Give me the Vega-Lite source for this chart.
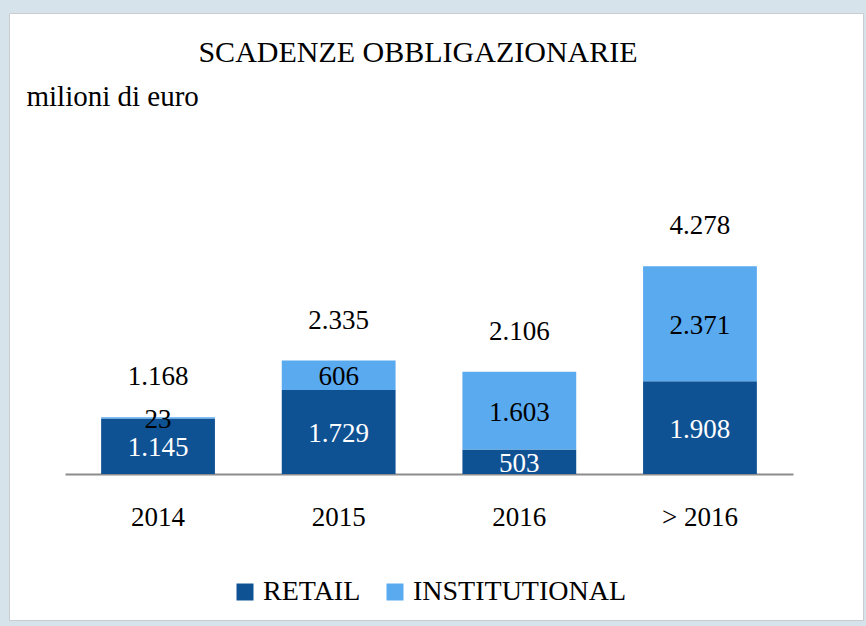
{
  "$schema": "https://vega.github.io/schema/vega-lite/v6.json",
  "width": 854,
  "height": 607,
  "autosize": {"type": "none"},
  "padding": {"left": 9, "top": 13, "right": 3, "bottom": 6},
  "background": "#d6e3eb",
  "config": {
    "view": {"fill": "white", "stroke": "#c9cdd1", "strokeWidth": 1},
    "font": "Liberation Serif",
    "locale": {"number": {"decimal": ",", "thousands": ".", "grouping": [3], "currency": ["€", ""]}}
  },
  "title": {
    "text": "SCADENZE OBBLIGAZIONARIE",
    "font": "Liberation Serif",
    "fontSize": 30,
    "fontWeight": "normal",
    "color": "black",
    "anchor": "middle",
    "offset": -55,
    "dx": -18
  },
  "datasets": {
    "segments": [
      {"year": "2014", "series": "RETAIL", "value": 1145},
      {"year": "2014", "series": "INSTITUTIONAL", "value": 23},
      {"year": "2015", "series": "RETAIL", "value": 1729},
      {"year": "2015", "series": "INSTITUTIONAL", "value": 606},
      {"year": "2016", "series": "RETAIL", "value": 503},
      {"year": "2016", "series": "INSTITUTIONAL", "value": 1603},
      {"year": "> 2016", "series": "RETAIL", "value": 1908},
      {"year": "> 2016", "series": "INSTITUTIONAL", "value": 2371}
    ],
    "totals": [
      {"year": "2014", "total": 1168},
      {"year": "2015", "total": 2335},
      {"year": "2016", "total": 2106},
      {"year": "> 2016", "total": 4278}
    ]
  },
  "encoding": {
    "x": {
      "field": "year",
      "type": "nominal",
      "sort": ["2014", "2015", "2016", "> 2016"],
      "scale": {"range": [56, 784], "paddingInner": 0.37, "paddingOuter": 0.2},
      "axis": {
        "title": null,
        "orient": "bottom",
        "offset": -146,
        "domainColor": "#8c8c8c",
        "domainWidth": 2,
        "ticks": false,
        "grid": false,
        "labelAngle": 0,
        "labelFont": "Liberation Serif",
        "labelFontSize": 27,
        "labelColor": "black",
        "labelPadding": 30
      }
    }
  },
  "layer": [
    {
      "data": {"name": "segments"},
      "mark": {"type": "bar"},
      "encoding": {
        "y": {
          "field": "value",
          "type": "quantitative",
          "stack": "zero",
          "scale": {"domain": [0, 9000], "range": [461, 24]},
          "axis": {
            "title": "milioni di euro",
            "titleAngle": 0,
            "titleX": 17,
            "titleY": 92,
            "titleAlign": "left",
            "titleBaseline": "alphabetic",
            "titleFont": "Liberation Serif",
            "titleFontSize": 29,
            "titleFontWeight": "normal",
            "titleColor": "black",
            "labels": false,
            "ticks": false,
            "domain": false,
            "grid": false
          }
        },
        "color": {
          "field": "series",
          "type": "nominal",
          "scale": {"domain": ["RETAIL", "INSTITUTIONAL"], "range": ["#0f5294", "#5aaaf0"]},
          "legend": {
            "orient": "none",
            "legendX": 222,
            "legendY": 565,
            "direction": "horizontal",
            "columns": 2,
            "title": null,
            "symbolType": "square",
            "symbolSize": 289,
            "symbolStrokeWidth": 0,
            "labelFont": "Liberation Serif",
            "labelFontSize": 28,
            "labelColor": "black",
            "labelLimit": 400,
            "labelOffset": 4,
            "columnPadding": 20
          }
        },
        "order": {"field": "series", "sort": "descending"}
      }
    },
    {
      "data": {"name": "segments"},
      "transform": [
        {"stack": "value", "groupby": ["year"], "sort": [{"field": "series", "order": "descending"}], "as": ["y0", "y1"]},
        {"fold": ["y0", "y1"], "as": ["edge", "pos"]},
        {"aggregate": [{"op": "mean", "field": "pos", "as": "mid"}], "groupby": ["year", "series", "value"]}
      ],
      "mark": {"type": "text", "font": "Liberation Serif", "fontSize": 27, "baseline": "middle", "dy": 2},
      "encoding": {
        "y": {"field": "mid", "type": "quantitative", "scale": {"domain": [0, 9000], "range": [461, 24]}},
        "text": {"field": "value", "type": "quantitative", "format": ","},
        "color": {"condition": {"test": "datum.series === 'RETAIL'", "value": "white"}, "value": "black"}
      }
    },
    {
      "data": {"name": "totals"},
      "mark": {"type": "text", "font": "Liberation Serif", "fontSize": 27, "baseline": "middle", "dy": -40, "color": "black"},
      "encoding": {
        "y": {"field": "total", "type": "quantitative", "scale": {"domain": [0, 9000], "range": [461, 24]}},
        "text": {"field": "total", "type": "quantitative", "format": ","}
      }
    }
  ]
}
